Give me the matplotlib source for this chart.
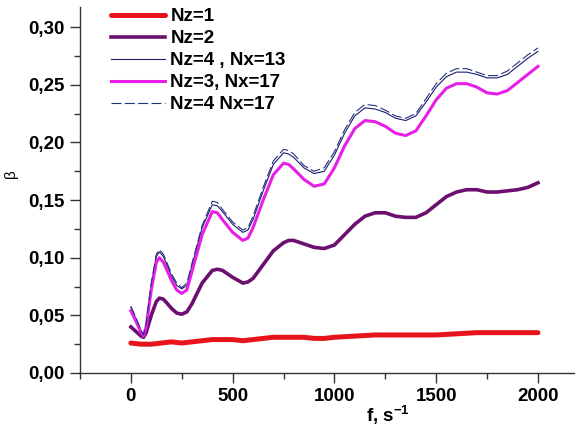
import matplotlib
matplotlib.use("Agg")
import matplotlib.pyplot as plt
from matplotlib.ticker import FuncFormatter, MultipleLocator

# frequency grid for the oscillating curves
freq = [0, 25, 50, 62, 75, 100, 125, 140, 160, 200, 225, 250, 275, 300, 350,
        400, 425, 450, 500, 550, 575, 600, 650, 700, 750, 775, 800, 850, 900,
        950, 1000, 1050, 1100, 1150, 1200, 1250, 1300, 1350, 1400, 1450, 1500,
        1550, 1600, 1650, 1700, 1750, 1800, 1850, 1900, 1950, 2000]

nz2 = [0.040, 0.036, 0.032, 0.031, 0.035, 0.050, 0.062, 0.065, 0.064, 0.056,
       0.052, 0.051, 0.053, 0.060, 0.078, 0.089, 0.090, 0.089, 0.083, 0.078,
       0.079, 0.082, 0.094, 0.106, 0.113, 0.115, 0.115, 0.112, 0.109, 0.108,
       0.111, 0.120, 0.129, 0.136, 0.139, 0.139, 0.136, 0.135, 0.135, 0.139,
       0.146, 0.153, 0.157, 0.159, 0.159, 0.157, 0.157, 0.158, 0.159, 0.161,
       0.165]

nz3_nx17 = [0.054, 0.045, 0.035, 0.032, 0.040, 0.072, 0.096, 0.100, 0.096, 0.080,
            0.072, 0.069, 0.072, 0.088, 0.120, 0.140, 0.139, 0.133, 0.122, 0.115,
            0.117, 0.126, 0.150, 0.172, 0.182, 0.181, 0.177, 0.168, 0.162, 0.164,
            0.178, 0.197, 0.212, 0.219, 0.218, 0.214, 0.208, 0.206, 0.210, 0.223,
            0.237, 0.247, 0.251, 0.251, 0.248, 0.243, 0.242, 0.245, 0.252, 0.259,
            0.266]

nz4_nx13 = [0.057, 0.047, 0.036, 0.033, 0.042, 0.076, 0.101, 0.105, 0.101, 0.084,
            0.076, 0.073, 0.076, 0.093, 0.126, 0.146, 0.145, 0.140, 0.129, 0.122,
            0.124, 0.133, 0.158, 0.181, 0.191, 0.190, 0.187, 0.178, 0.173, 0.175,
            0.189, 0.208, 0.223, 0.230, 0.229, 0.226, 0.221, 0.219, 0.223, 0.235,
            0.248, 0.257, 0.261, 0.261, 0.259, 0.256, 0.256, 0.259, 0.266, 0.273,
            0.279]

nz4_nx17 = [0.058, 0.048, 0.037, 0.033, 0.043, 0.078, 0.103, 0.107, 0.103, 0.086,
            0.078, 0.074, 0.078, 0.095, 0.128, 0.149, 0.148, 0.142, 0.131, 0.124,
            0.126, 0.136, 0.161, 0.184, 0.194, 0.193, 0.190, 0.180, 0.175, 0.178,
            0.192, 0.211, 0.226, 0.233, 0.232, 0.228, 0.223, 0.221, 0.225, 0.238,
            0.251, 0.260, 0.264, 0.264, 0.261, 0.258, 0.258, 0.262, 0.269, 0.276,
            0.282]

# Nz=1 is almost flat
freq_nz1 = [0, 50, 100, 150, 200, 250, 300, 350, 400, 450, 500, 550, 600, 650,
            700, 750, 800, 850, 900, 950, 1000, 1100, 1200, 1300, 1400, 1500,
            1600, 1700, 1800, 1900, 2000]
nz1 = [0.026, 0.025, 0.025, 0.026, 0.027, 0.026, 0.027, 0.028, 0.029, 0.029,
       0.029, 0.028, 0.029, 0.030, 0.031, 0.031, 0.031, 0.031, 0.030, 0.030,
       0.031, 0.032, 0.033, 0.033, 0.033, 0.033, 0.034, 0.035, 0.035, 0.035,
       0.035]

plt.rcParams['font.family'] = ['Liberation Sans', 'DejaVu Sans']
plt.rcParams['mathtext.fontset'] = 'custom'
plt.rcParams['mathtext.rm'] = 'Liberation Sans:bold'
plt.rcParams['mathtext.bf'] = 'Liberation Sans:bold'
plt.rcParams['mathtext.default'] = 'bf'

fig = plt.figure(figsize=(5.75, 4.32), dpi=100)
ax = fig.add_axes([80 / 575, 59 / 432, 495 / 575, 366 / 432])

ax.plot(freq_nz1, nz1, color='#e8141c', lw=3.6, label='Nz=1', solid_capstyle='round')
ax.plot(freq, nz2, color='#6c0f6e', lw=2.6, label='Nz=2')
ax.plot(freq, nz4_nx13, color='#1c1c70', lw=0.8, label='Nz=4 , Nx=13')
ax.plot(freq, nz3_nx17, color='#e81ee8', lw=2.2, label='Nz=3, Nx=17')
ax.plot(freq, nz4_nx17, color='#23337a', lw=0.8, dashes=(9, 3), label='Nz=4 Nx=17')

ax.set_xlim(-250, 2182)
ax.set_ylim(0, 0.3175)

ax.xaxis.set_major_locator(MultipleLocator(500))
ax.xaxis.set_minor_locator(MultipleLocator(250))
ax.yaxis.set_major_locator(MultipleLocator(0.05))
ax.yaxis.set_minor_locator(MultipleLocator(0.025))
ax.yaxis.set_major_formatter(FuncFormatter(lambda v, p: f"{v:.2f}".replace('.', ',')))

for s in ['top', 'right']:
    ax.spines[s].set_visible(False)
for s in ['left', 'bottom']:
    ax.spines[s].set_color('#333333')
    ax.spines[s].set_linewidth(1.0)

ax.tick_params(which='major', direction='out', length=7, width=1, color='#333333',
               labelsize=13.5, pad=4)
ax.tick_params(which='minor', direction='out', length=4, width=1, color='#333333')
for lbl in ax.get_xticklabels() + ax.get_yticklabels():
    lbl.set_fontweight('bold')

ax.set_xlabel('f, s$^{-1}$', fontsize=13.5, fontweight='bold')
ax.xaxis.set_label_coords(0.622, -0.085)
ax.set_ylabel('β', fontsize=11)
ax.yaxis.set_label_coords(-0.125, 0.546)

ax.legend(loc='upper left', bbox_to_anchor=(111 / 575, 1 - 8 / 432),
          bbox_transform=fig.transFigure, frameon=False, borderpad=0,
          borderaxespad=0, handlelength=2.9, handletextpad=0.27,
          labelspacing=0.26, prop={'size': 13.5, 'weight': 'bold'})

fig.savefig('out.png', dpi=100)
